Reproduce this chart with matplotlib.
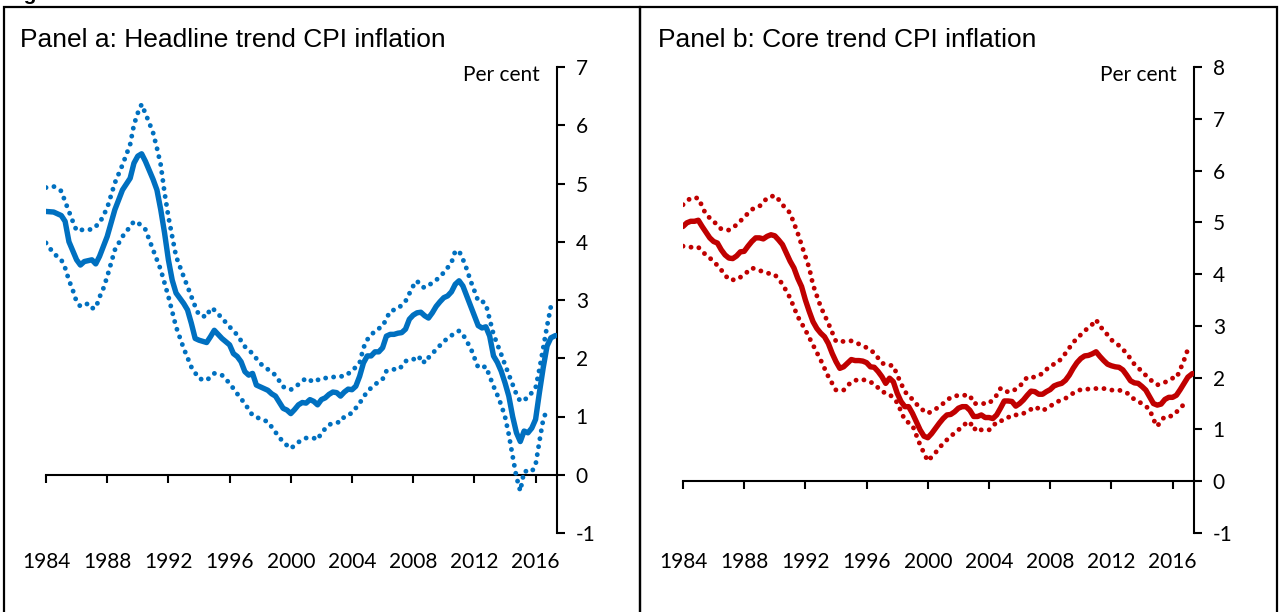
import matplotlib.pyplot as plt
import matplotlib.patches as patches

# ---- Panel a: headline trend CPI inflation (per cent) ----
a_mid_yr = [1984.0, 1984.5, 1985.0, 1985.25, 1985.5, 1986.0, 1986.25, 1986.5, 1987.0, 1987.25,
            1987.5, 1988.0, 1988.5, 1989.0, 1989.5, 1989.75, 1990.0, 1990.25, 1990.5, 1991.0,
            1991.25, 1991.5, 1991.75, 1992.0, 1992.25, 1992.5, 1993.0, 1993.25, 1993.5, 1993.75,
            1994.0, 1994.5, 1994.75, 1995.0, 1995.5, 1996.0, 1996.25, 1996.5, 1996.75, 1997.0,
            1997.25, 1997.5, 1997.75, 1998.0, 1998.5, 1998.75, 1999.0, 1999.5, 1999.75, 2000.0,
            2000.25, 2000.5, 2000.75, 2001.0, 2001.25, 2001.5, 2001.75, 2002.0, 2002.25, 2002.5,
            2002.75, 2003.0, 2003.25, 2003.5, 2003.75, 2004.0, 2004.25, 2004.5, 2004.75, 2005.0,
            2005.25, 2005.5, 2005.75, 2006.0, 2006.25, 2006.5, 2006.75, 2007.0, 2007.25, 2007.5,
            2007.75, 2008.0, 2008.25, 2008.5, 2008.75, 2009.0, 2009.25, 2009.5, 2009.75, 2010.0,
            2010.25, 2010.5, 2010.75, 2011.0, 2011.25, 2011.5, 2011.75, 2012.0, 2012.25, 2012.5,
            2012.75, 2013.0, 2013.25, 2013.5, 2013.75, 2014.0, 2014.25, 2014.5, 2014.75, 2015.0,
            2015.25, 2015.5, 2015.75, 2016.0, 2016.25, 2016.5, 2016.75, 2017.0, 2017.3]
a_mid = [4.52, 4.51, 4.45, 4.35, 4.00, 3.69, 3.60, 3.66, 3.69, 3.62,
         3.75, 4.09, 4.55, 4.89, 5.09, 5.35, 5.47, 5.51, 5.38, 5.07,
         4.89, 4.55, 4.15, 3.69, 3.34, 3.12, 2.94, 2.83, 2.60, 2.34,
         2.31, 2.27, 2.37, 2.48, 2.34, 2.23, 2.08, 2.03, 1.94, 1.77,
         1.71, 1.74, 1.54, 1.51, 1.45, 1.39, 1.35, 1.14, 1.11, 1.05,
         1.12, 1.20, 1.24, 1.23, 1.29, 1.26, 1.20, 1.29, 1.32, 1.38,
         1.42, 1.41, 1.35, 1.42, 1.47, 1.46, 1.52, 1.69, 1.92, 2.04,
         2.04, 2.11, 2.11, 2.18, 2.38, 2.41, 2.41, 2.43, 2.44, 2.50,
         2.67, 2.74, 2.78, 2.79, 2.73, 2.69, 2.78, 2.89, 2.97, 3.04,
         3.07, 3.14, 3.27, 3.33, 3.24, 3.07, 2.90, 2.73, 2.56, 2.52,
         2.54, 2.38, 2.04, 1.93, 1.78, 1.58, 1.35, 1.00, 0.72, 0.57,
         0.75, 0.72, 0.80, 0.95, 1.41, 1.84, 2.21, 2.35, 2.39]

a_hi_yr = [1984.0, 1984.5, 1985.0, 1985.25, 1985.5, 1985.75, 1986.0, 1986.5, 1987.0, 1987.5,
           1988.0, 1988.5, 1989.0, 1989.5, 1989.75, 1990.0, 1990.25, 1990.5, 1990.75, 1991.0,
           1991.25, 1991.5, 1991.75, 1992.0, 1992.25, 1992.5, 1993.0, 1993.5, 1993.75, 1994.0,
           1994.5, 1994.75, 1995.0, 1995.5, 1996.0, 1996.5, 1997.0, 1997.5, 1998.0, 1998.5,
           1999.0, 1999.5, 2000.0, 2000.5, 2001.0, 2001.5, 2002.0, 2002.5, 2003.0, 2003.5,
           2004.0, 2004.5, 2004.75, 2005.0, 2005.5, 2006.0, 2006.5, 2007.0, 2007.5, 2008.0,
           2008.25, 2008.5, 2008.75, 2009.0, 2009.5, 2010.0, 2010.5, 2010.75, 2011.0, 2011.25,
           2011.5, 2011.75, 2012.0, 2012.25, 2012.5, 2012.75, 2013.0, 2013.25, 2013.5, 2013.75,
           2014.0, 2014.25, 2014.5, 2014.75, 2015.0, 2015.25, 2015.5, 2015.75, 2016.0, 2016.25,
           2016.5, 2016.75, 2017.0]
a_hi = [4.93, 4.95, 4.87, 4.69, 4.52, 4.35, 4.19, 4.21, 4.21, 4.32,
        4.58, 5.01, 5.32, 5.67, 6.01, 6.21, 6.36, 6.20, 6.04, 5.87,
        5.61, 5.32, 4.84, 4.43, 4.09, 3.75, 3.40, 3.06, 2.89, 2.74,
        2.71, 2.86, 2.83, 2.69, 2.54, 2.40, 2.20, 2.08, 1.91, 1.81,
        1.71, 1.51, 1.46, 1.55, 1.66, 1.59, 1.66, 1.66, 1.69, 1.69,
        1.78, 1.92, 2.18, 2.32, 2.47, 2.55, 2.81, 2.85, 2.98, 3.24,
        3.33, 3.24, 3.21, 3.25, 3.34, 3.47, 3.64, 3.84, 3.84, 3.70,
        3.53, 3.33, 3.16, 2.98, 2.98, 2.93, 2.67, 2.41, 2.24, 2.07,
        1.89, 1.72, 1.55, 1.38, 1.26, 1.29, 1.32, 1.41, 1.49, 1.81,
        2.18, 2.55, 2.89]

a_lo_yr = [1984.0, 1984.5, 1985.0, 1985.25, 1985.5, 1985.75, 1986.0, 1986.25, 1986.5, 1986.75,
           1987.0, 1987.25, 1987.5, 1987.75, 1988.0, 1988.5, 1989.0, 1989.5, 1989.75, 1990.0,
           1990.5, 1991.0, 1991.5, 1992.0, 1992.5, 1993.0, 1993.5, 1994.0, 1994.5, 1995.0,
           1995.5, 1996.0, 1996.5, 1997.0, 1997.5, 1998.0, 1998.5, 1999.0, 1999.5, 2000.0,
           2000.5, 2001.0, 2001.5, 2001.75, 2002.0, 2002.5, 2003.0, 2003.25, 2003.5, 2004.0,
           2004.5, 2005.0, 2005.5, 2006.0, 2006.25, 2006.75, 2007.0, 2007.25, 2007.5, 2008.0,
           2008.25, 2008.5, 2008.75, 2009.0, 2009.5, 2010.0, 2010.5, 2010.75, 2011.0, 2011.25,
           2011.5, 2011.75, 2012.0, 2012.25, 2012.5, 2012.75, 2013.0, 2013.25, 2013.5, 2013.75,
           2014.0, 2014.25, 2014.5, 2014.75, 2015.0, 2015.25, 2015.5, 2015.75, 2016.0, 2016.25,
           2016.5, 2016.75]
a_lo = [3.98, 3.80, 3.69, 3.55, 3.34, 3.17, 2.97, 2.89, 2.91, 2.94,
        2.86, 2.86, 3.05, 3.20, 3.40, 3.86, 4.09, 4.26, 4.35, 4.33,
        4.21, 3.86, 3.52, 3.06, 2.54, 2.17, 1.85, 1.65, 1.62, 1.74,
        1.71, 1.57, 1.39, 1.22, 1.02, 0.96, 0.91, 0.73, 0.56, 0.45,
        0.56, 0.63, 0.63, 0.60, 0.72, 0.86, 0.90, 0.90, 1.00, 1.06,
        1.23, 1.43, 1.55, 1.64, 1.78, 1.81, 1.80, 1.86, 1.95, 1.99,
        1.95, 2.03, 1.92, 2.01, 2.15, 2.29, 2.39, 2.44, 2.47, 2.41,
        2.29, 2.18, 2.01, 1.84, 1.84, 1.86, 1.69, 1.52, 1.37, 1.20,
        1.00, 0.69, 0.32, -0.04, -0.28, 0.06, 0.06, 0.05, 0.17, 0.57,
        0.95, 1.12]

# ---- Panel b: core trend CPI inflation (per cent) ----
b_mid_yr = [1984.0, 1984.25, 1984.5, 1984.75, 1985.0, 1985.25, 1985.5, 1985.75, 1986.0, 1986.25,
            1986.5, 1986.75, 1987.0, 1987.25, 1987.5, 1987.75, 1988.0, 1988.25, 1988.5, 1988.75,
            1989.0, 1989.25, 1989.5, 1989.75, 1990.0, 1990.25, 1990.5, 1990.75, 1991.0, 1991.25,
            1991.5, 1991.75, 1992.0, 1992.25, 1992.5, 1992.75, 1993.0, 1993.25, 1993.5, 1993.75,
            1994.0, 1994.25, 1994.5, 1994.75, 1995.0, 1995.25, 1995.5, 1995.75, 1996.0, 1996.25,
            1996.5, 1996.75, 1997.0, 1997.25, 1997.5, 1997.75, 1998.0, 1998.25, 1998.5, 1998.75,
            1999.0, 1999.25, 1999.5, 1999.75, 2000.0, 2000.25, 2000.5, 2000.75, 2001.0, 2001.25,
            2001.5, 2001.75, 2002.0, 2002.25, 2002.5, 2002.75, 2003.0, 2003.25, 2003.5, 2003.75,
            2004.0, 2004.25, 2004.5, 2004.75, 2005.0, 2005.25, 2005.5, 2005.75, 2006.0, 2006.25,
            2006.5, 2006.75, 2007.0, 2007.25, 2007.5, 2007.75, 2008.0, 2008.25, 2008.5, 2008.75,
            2009.0, 2009.25, 2009.5, 2009.75, 2010.0, 2010.25, 2010.5, 2010.75, 2011.0, 2011.25,
            2011.5, 2011.75, 2012.0, 2012.25, 2012.5, 2012.75, 2013.0, 2013.25, 2013.5, 2013.75,
            2014.0, 2014.25, 2014.5, 2014.75, 2015.0, 2015.25, 2015.5, 2015.75, 2016.0, 2016.25,
            2016.5, 2016.75, 2017.0, 2017.3]
b_mid = [4.92, 4.99, 5.02, 5.02, 5.04, 4.92, 4.81, 4.70, 4.63, 4.60,
         4.47, 4.37, 4.31, 4.30, 4.35, 4.43, 4.44, 4.54, 4.63, 4.70,
         4.70, 4.68, 4.73, 4.76, 4.74, 4.66, 4.57, 4.41, 4.25, 4.12,
         3.92, 3.76, 3.50, 3.28, 3.08, 2.95, 2.86, 2.79, 2.66, 2.47,
         2.31, 2.18, 2.21, 2.28, 2.35, 2.33, 2.33, 2.32, 2.29, 2.21,
         2.20, 2.12, 2.02, 1.89, 1.99, 1.92, 1.70, 1.54, 1.44, 1.44,
         1.31, 1.15, 0.99, 0.87, 0.84, 0.92, 1.02, 1.12, 1.21, 1.28,
         1.29, 1.34, 1.41, 1.44, 1.44, 1.37, 1.25, 1.25, 1.28, 1.23,
         1.23, 1.21, 1.28, 1.41, 1.55, 1.55, 1.54, 1.45, 1.50, 1.57,
         1.66, 1.74, 1.73, 1.68, 1.68, 1.73, 1.77, 1.84, 1.87, 1.89,
         1.95, 2.05, 2.18, 2.29, 2.37, 2.42, 2.43, 2.46, 2.50, 2.41,
         2.33, 2.26, 2.23, 2.21, 2.20, 2.15, 2.05, 1.94, 1.90, 1.89,
         1.83, 1.76, 1.63, 1.50, 1.47, 1.49, 1.58, 1.62, 1.62, 1.66,
         1.77, 1.89, 2.01, 2.08]

b_hi_yr = [1984.0, 1984.5, 1985.0, 1985.25, 1985.5, 1986.0, 1986.5, 1987.0, 1987.5, 1988.0,
           1988.5, 1989.0, 1989.5, 1990.0, 1990.25, 1990.5, 1991.0, 1991.5, 1992.0, 1992.25,
           1992.5, 1993.0, 1993.5, 1994.0, 1994.5, 1995.0, 1995.5, 1996.0, 1996.5, 1997.0,
           1997.5, 1997.75, 1998.0, 1998.5, 1999.0, 1999.5, 2000.0, 2000.5, 2001.0, 2001.5,
           2002.0, 2002.5, 2002.75, 2003.0, 2003.5, 2004.0, 2004.5, 2004.75, 2005.0, 2005.5,
           2006.0, 2006.5, 2007.0, 2007.5, 2008.0, 2008.5, 2009.0, 2009.5, 2010.0, 2010.5,
           2010.75, 2011.0, 2011.25, 2011.5, 2012.0, 2012.5, 2013.0, 2013.5, 2014.0, 2014.5,
           2015.0, 2015.5, 2016.0, 2016.25, 2016.5, 2016.75, 2017.0]
b_hi = [5.34, 5.47, 5.47, 5.31, 5.15, 5.02, 4.87, 4.85, 4.95, 5.10,
        5.25, 5.31, 5.47, 5.52, 5.44, 5.34, 5.18, 4.79, 4.34, 4.12,
        3.79, 3.37, 3.05, 2.70, 2.70, 2.71, 2.65, 2.58, 2.48, 2.28,
        2.24, 2.23, 2.05, 1.73, 1.58, 1.41, 1.31, 1.39, 1.50, 1.62,
        1.66, 1.66, 1.66, 1.50, 1.50, 1.50, 1.66, 1.79, 1.73, 1.73,
        1.83, 2.01, 2.01, 2.08, 2.23, 2.29, 2.47, 2.68, 2.83, 2.97,
        3.03, 3.12, 2.99, 2.92, 2.73, 2.62, 2.47, 2.26, 2.12, 1.97,
        1.86, 1.91, 1.99, 1.99, 2.16, 2.34, 2.55]

b_lo_yr = [1984.0, 1984.5, 1985.0, 1985.25, 1985.5, 1986.0, 1986.5, 1987.0, 1987.5, 1988.0,
           1988.5, 1989.0, 1989.5, 1990.0, 1990.5, 1991.0, 1991.5, 1992.0, 1992.5, 1993.0,
           1993.5, 1994.0, 1994.5, 1995.0, 1995.5, 1996.0, 1996.5, 1997.0, 1997.5, 1997.75,
           1998.0, 1998.5, 1999.0, 1999.25, 1999.5, 2000.0, 2000.5, 2001.0, 2001.5, 2002.0,
           2002.5, 2002.75, 2003.0, 2003.25, 2003.5, 2004.0, 2004.25, 2004.5, 2005.0, 2005.5,
           2006.0, 2006.5, 2007.0, 2007.5, 2008.0, 2008.5, 2009.0, 2009.5, 2010.0, 2010.5,
           2011.0, 2011.5, 2012.0, 2012.5, 2013.0, 2013.5, 2014.0, 2014.5, 2014.75, 2015.0,
           2015.25, 2015.5, 2016.0, 2016.5, 2017.0]
b_lo = [4.54, 4.52, 4.52, 4.44, 4.37, 4.25, 4.08, 3.89, 3.89, 3.99,
        4.12, 4.07, 4.02, 3.99, 3.81, 3.54, 3.18, 2.92, 2.63, 2.34,
        2.02, 1.76, 1.76, 1.92, 1.97, 1.95, 1.88, 1.73, 1.68, 1.60,
        1.52, 1.18, 1.08, 0.89, 0.70, 0.39, 0.55, 0.73, 0.87, 0.99,
        1.12, 1.15, 0.99, 1.05, 0.99, 0.99, 1.05, 1.15, 1.18, 1.28,
        1.28, 1.34, 1.44, 1.36, 1.45, 1.54, 1.60, 1.70, 1.77, 1.78,
        1.79, 1.79, 1.76, 1.76, 1.71, 1.58, 1.50, 1.39, 1.19, 1.06,
        1.17, 1.25, 1.26, 1.41, 1.57]

year_ticks = [1984, 1988, 1992, 1996, 2000, 2004, 2008, 2012, 2016]

plt.rcParams['font.family'] = 'Lato'
plt.rcParams['axes.unicode_minus'] = False

fig = plt.figure(figsize=(12.8, 6.12), dpi=100)

ax_a = fig.add_axes([46/1280, 1 - 533/612, (557 - 46)/1280, 466/612])
ax_b = fig.add_axes([683/1280, 1 - 533/612, (1194 - 683)/1280, 466/612])


def draw_panel(ax, yrs, mid, hi_yrs, hi, lo_yrs, lo, color, ylim):
    ax.plot(yrs, mid, color=color, linewidth=3.9, solid_capstyle='round',
            solid_joinstyle='round', zorder=3)
    ax.plot(hi_yrs, hi, color=color, linewidth=3.5, linestyle=(0, (0.01, 1.65)),
            dash_capstyle='round', zorder=3)
    ax.plot(lo_yrs, lo, color=color, linewidth=3.5, linestyle=(0, (0.01, 1.65)),
            dash_capstyle='round', zorder=3)

    ax.set_xlim(1984, 2017.4)
    ax.set_ylim(*ylim)
    ax.set_yticks(range(ylim[0], ylim[1] + 1))

    for s in ['left', 'top']:
        ax.spines[s].set_visible(False)
    ax.spines['bottom'].set_position(('data', 0))
    ax.spines['bottom'].set_linewidth(1.5)
    ax.spines['right'].set_linewidth(1.5)

    ax.yaxis.tick_right()
    ax.tick_params(axis='y', direction='out', length=5.5, width=1.5, pad=8,
                   labelsize=15)
    ax.set_xticks(year_ticks)
    ax.tick_params(axis='x', direction='out', length=6, width=1.5,
                   labelbottom=False)

    # year labels sit at the bottom of the panel, not on the zero line
    sec = ax.secondary_xaxis(0)
    sec.set_xticks(year_ticks)
    sec.tick_params(length=0, pad=14, labelsize=15)
    sec.spines['bottom'].set_visible(False)

    ax.text(0.967, 0.982, 'Per cent', transform=ax.transAxes, ha='right',
            va='center', fontsize=15)


draw_panel(ax_a, a_mid_yr, a_mid, a_hi_yr, a_hi, a_lo_yr, a_lo, '#0070C0', (-1, 7))
draw_panel(ax_b, b_mid_yr, b_mid, b_hi_yr, b_hi, b_lo_yr, b_lo, '#C00000', (-1, 8))

fig.text(20/1280, 1 - 47/612, 'Panel a: Headline trend CPI inflation',
         family='Liberation Sans', fontsize=19, va='baseline')
fig.text(658/1280, 1 - 47/612, 'Panel b: Core trend CPI inflation',
         family='Liberation Sans', fontsize=19, va='baseline')

# figure heading sits above the frame and is cut off, as in the source
fig.text(6/1280, 1 - 0.5/612, 'Figure', family='Liberation Sans', fontsize=15,
         fontweight='bold', va='baseline')

# panel frames
for x0, x1 in [(4, 640), (640, 1277)]:
    fig.add_artist(patches.Rectangle((x0/1280, -0.01), (x1 - x0)/1280, 1.01 - 7/612,
                                     transform=fig.transFigure, fill=False,
                                     edgecolor='black', linewidth=1.6))

fig.savefig('out.png', dpi=100)
